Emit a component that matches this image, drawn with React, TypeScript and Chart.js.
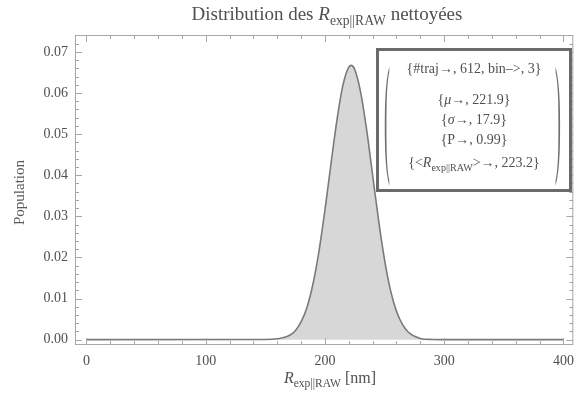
import React, { useEffect, useRef } from "react";
import { Chart, registerables } from "chart.js";

Chart.register(...registerables);

const radius = [0, 150, 160, 170, 175, 180, 185, 190, 195, 200, 205, 210, 215, 220, 222, 225, 230, 235, 240, 245, 250, 255, 260, 265, 270, 280, 290, 300, 400];
const population = [0, 0.00002, 0.0002, 0.001, 0.0021, 0.0043, 0.0079, 0.0136, 0.0215, 0.0315, 0.0426, 0.0533, 0.0618, 0.0663, 0.0667, 0.0657, 0.0601, 0.051, 0.04, 0.029, 0.0194, 0.012, 0.0069, 0.0037, 0.0018, 0.0003, 0.00004, 0, 0];
const xTicks = [0, 100, 200, 300, 400];
const yTicks = [0, 0.01, 0.02, 0.03, 0.04, 0.05, 0.06, 0.07];
const xMinorStep = 20;
const yMinorStep = 0.002;
const infoLines = ["#traj→, 612, bin–>, 3", "μ→, 221.9", "σ→, 17.9", "P→, 0.99"];
const meanValue = "223.2";

const SERIF = "'Liberation Serif', 'Times New Roman', serif";
const TEXT = "#505050";

const framePlugin = {
  id: "frameTicks",
  afterDraw(chart: any) {
    const { ctx, chartArea: a, scales } = chart;
    const xs = scales.x;
    const ys = scales.y;
    ctx.save();
    ctx.strokeStyle = "#a8a8a8";
    ctx.lineWidth = 1;
    ctx.strokeRect(a.left + 0.5, a.top + 0.5, a.right - a.left - 1, a.bottom - a.top - 1);
    ctx.beginPath();
    for (let v = 0; v <= 400 + 1e-9; v += xMinorStep) {
      const px = Math.round(xs.getPixelForValue(v)) + 0.5;
      const major = v % 100 === 0;
      const len = major ? 7 : 4;
      ctx.moveTo(px, a.bottom);
      ctx.lineTo(px, a.bottom - len);
      ctx.moveTo(px, a.top);
      ctx.lineTo(px, a.top + len);
    }
    for (let i = 0; i <= 37; i++) {
      const v = i * yMinorStep;
      if (v > ys.max) break;
      const py = Math.round(ys.getPixelForValue(v)) + 0.5;
      const major = i % 5 === 0;
      const len = major ? 7 : 4;
      ctx.moveTo(a.left, py);
      ctx.lineTo(a.left + len, py);
      ctx.moveTo(a.right, py);
      ctx.lineTo(a.right - len, py);
    }
    ctx.stroke();
    ctx.restore();
  },
};

export default function App() {
  const ref = useRef<HTMLCanvasElement>(null);
  useEffect(() => {
    if (!ref.current) return;
    const chart = new Chart(ref.current, {
      type: "line",
      data: {
        datasets: [
          {
            data: radius.map((x, i) => ({ x, y: population[i] })),
            borderColor: "#7a7a7a",
            borderWidth: 1.6,
            backgroundColor: "#d7d7d7",
            fill: "origin",
            pointRadius: 0,
            cubicInterpolationMode: "monotone",
          },
        ],
      },
      options: {
        animation: false,
        responsive: false,
        maintainAspectRatio: false,
        layout: { padding: { left: 0, top: 35, right: 4, bottom: 0 } },
        plugins: { legend: { display: false }, tooltip: { enabled: false }, title: { display: false } },
        scales: {
          x: {
            type: "linear",
            min: -9.6,
            max: 408.3,
            afterBuildTicks: (s: any) => {
              s.ticks = xTicks.map((v) => ({ value: v }));
            },
            afterFit: (s: any) => {
              s.height = 62;
            },
            ticks: { font: { family: SERIF, size: 14 }, color: TEXT, padding: 8, maxRotation: 0 },
            grid: { display: false, drawTicks: false },
            border: { display: false },
          },
          y: {
            type: "linear",
            min: -0.0013,
            max: 0.0741,
            afterBuildTicks: (s: any) => {
              s.ticks = yTicks.map((v) => ({ value: v }));
            },
            afterFit: (s: any) => {
              s.width = 75;
            },
            ticks: {
              font: { family: SERIF, size: 14 },
              color: TEXT,
              padding: 7,
              callback: (v: any) => Number(v).toFixed(2),
            },
            grid: { display: false, drawTicks: false },
            border: { display: false },
          },
        },
      },
      plugins: [framePlugin],
    } as any);
    return () => chart.destroy();
  }, []);

  const sub: React.CSSProperties = { fontSize: "0.72em", verticalAlign: "-0.35em", fontStyle: "normal" };
  const paren: React.CSSProperties = {
    position: "absolute",
    top: 0,
    fontSize: 16,
    lineHeight: "16px",
    height: 16,
    transform: "scale(1.1, 8.2)",
    transformOrigin: "0 0",
    color: "#707070",
    fontFamily: SERIF,
  };
  const line: React.CSSProperties = {
    position: "absolute",
    left: 0,
    right: 0,
    textAlign: "center",
    fontSize: 14,
    lineHeight: "14px",
    whiteSpace: "nowrap",
  };

  return (
    <div style={{ position: "fixed", left: 0, top: 0, width: 582, height: 407, background: "#fff", fontFamily: SERIF, color: TEXT }}>
      <canvas ref={ref} width={582} height={407} style={{ position: "absolute", left: 0, top: 0 }} />
      <div style={{ position: "absolute", left: 0, width: 654, top: 3, textAlign: "center", fontSize: 19, lineHeight: "22px", whiteSpace: "nowrap" }}>
        Distribution des <i>R</i>
        <span style={sub}>exp||RAW</span> nettoyées
      </div>
      <div
        style={{
          position: "absolute",
          left: 10,
          top: 152,
          height: 80,
          width: 18,
          writingMode: "vertical-rl",
          transform: "rotate(180deg)",
          textAlign: "center",
          fontFamily: SERIF,
          fontSize: 15,
          lineHeight: "18px",
          fontWeight: 400,
          color: "#5a5a5a",
          whiteSpace: "nowrap",
        }}
      >
        Population
      </div>
      <div style={{ position: "absolute", left: 0, width: 660, top: 369, textAlign: "center", fontSize: 16, lineHeight: "18px", whiteSpace: "nowrap" }}>
        <i>R</i>
        <span style={sub}>exp||RAW</span> [nm]
      </div>
      <div
        style={{
          position: "absolute",
          left: 376,
          top: 48,
          width: 190,
          height: 138,
          border: "3px solid #6a6a6a",
          background: "#fff",
          boxSizing: "content-box",
        }}
      >
        <span style={{ ...paren, left: 5 }}>(</span>
        <span style={{ ...paren, left: 176 }}>)</span>
        <div style={{ ...line, top: 11 }}>{"{" + infoLines[0] + "}"}</div>
        <div style={{ ...line, top: 42 }}>
          {"{"}<i>μ</i>{"→, 221.9}"}
        </div>
        <div style={{ ...line, top: 62 }}>
          {"{"}<i>σ</i>{"→, 17.9}"}
        </div>
        <div style={{ ...line, top: 82 }}>{"{" + infoLines[3] + "}"}</div>
        <div style={{ ...line, top: 105 }}>
          {"{<"}<i>R</i>
          <span style={sub}>exp||RAW</span>
          {">→, " + meanValue + "}"}
        </div>
      </div>
    </div>
  );
}
